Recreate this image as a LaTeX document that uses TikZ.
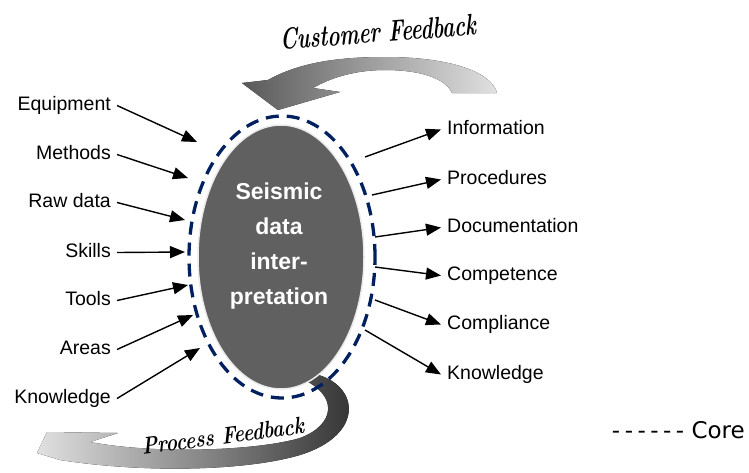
\documentclass[tikz,border=0pt]{standalone}
\usepackage{fontspec}
\newfontfamily\labelfont{Liberation Sans}
\newfontfamily\corefont{DejaVu Sans}
\usetikzlibrary{arrows.meta,shapes.geometric}
\definecolor{corenavy}{RGB}{0,32,96}
\definecolor{coregray}{RGB}{96,96,96}

\begin{document}
\begin{tikzpicture}[x=1pt,y=-1pt]
\tikzstyle{every node}+=[inner sep=0pt]
\tikzstyle{lbl}=[font=\labelfont\fontsize{19.5}{19.5}\selectfont, text height=13pt, text depth=4pt, inner xsep=6pt]
\tikzstyle{feed}=[line width=1.4pt, -{Triangle[length=15pt,width=12pt]}]
\tikzstyle{script}=[font=\bfseries\itshape\fontsize{30}{30}\selectfont]
\useasboundingbox (0,0) rectangle (749,472);
% feedback loops
\fill [left color=black!65, right color=black!12] (268,80) .. controls (300,62) and (340,57) .. (385,57)
  .. controls (450,57) and (492,72) .. (497,93) -- (452,93) .. controls (445,78) and (420,70) .. (385,70)
  .. controls (355,70) and (330,78) .. (313,88) -- (340,92) -- (278,110) -- (242,83) -- cycle;
\node [script, xscale=0.68, rotate=3] (customer) at (378,32) {Customer Feedback};
\fill [left color=black!12, right color=black!82] (315,374) .. controls (360,385) and (365,435) .. (300,455)
  .. controls (250,470) and (150,474) .. (60,460) -- (37,453) -- (47,432) -- (118,433) -- (90,442)
  .. controls (160,455) and (260,450) .. (300,438) .. controls (335,425) and (340,395) .. (300,378) -- cycle;
\node [script, font=\bfseries\itshape\fontsize{24}{24}\selectfont, xscale=0.8, rotate=6] (process) at (223,436) {Process Feedback};
% core
\node [ellipse, fill=coregray, draw=black!8, line width=1.5pt, minimum width=166pt, minimum height=264pt] (core) at (281,257) {};
\node [ellipse, draw=corenavy, line width=3.3pt, dash pattern=on 13pt off 8pt, minimum width=186pt, minimum height=282pt] (ring) at (282,257) {};
\node [align=center, text=white, font=\labelfont\bfseries\fontsize{23}{35}\selectfont] (title) at (279,246) {Seismic\\data\\inter-\\pretation};
% inputs
\node [lbl, anchor=base east] (equipment) at (117,110) {Equipment};
\node [lbl, anchor=base east] (methods) at (117,159) {Methods};
\node [lbl, anchor=base east] (rawdata) at (117,207) {Raw data};
\node [lbl, anchor=base east] (skills) at (117,257) {Skills};
\node [lbl, anchor=base east] (tools) at (117,305) {Tools};
\node [lbl, anchor=base east] (areas) at (117,354) {Areas};
\node [lbl, anchor=base east] (knowin) at (117,403) {Knowledge};
\coordinate (equipment-in) at (197,142);
\coordinate (methods-in) at (188,178);
\coordinate (rawdata-in) at (185,220);
\coordinate (skills-in) at (185,252);
\coordinate (tools-in) at (188,285);
\coordinate (areas-in) at (193,315);
\coordinate (knowin-in) at (200,348);
\draw [feed] (equipment.east) -- (equipment-in);
\draw [feed] (methods.east) -- (methods-in);
\draw [feed] (rawdata.east) -- (rawdata-in);
\draw [feed] (skills.east) -- (skills-in);
\draw [feed] (tools.east) -- (tools-in);
\draw [feed] (areas.east) -- (areas-in);
\draw [feed] (knowin.east) -- (knowin-in);
% outputs
\node [lbl, anchor=base west] (information) at (441,134) {Information};
\node [lbl, anchor=base west] (procedures) at (441,184) {Procedures};
\node [lbl, anchor=base west] (documentation) at (441,232) {Documentation};
\node [lbl, anchor=base west] (competence) at (441,280) {Competence};
\node [lbl, anchor=base west] (compliance) at (441,329) {Compliance};
\node [lbl, anchor=base west] (knowout) at (441,379) {Knowledge};
\coordinate (information-out) at (365,157);
\coordinate (procedures-out) at (372,195);
\coordinate (documentation-out) at (375,237);
\coordinate (competence-out) at (375,267);
\coordinate (compliance-out) at (375,300);
\coordinate (knowout-out) at (365,330);
\draw [feed] (information-out) -- (information.west);
\draw [feed] (procedures-out) -- (procedures.west);
\draw [feed] (documentation-out) -- (documentation.west);
\draw [feed] (competence-out) -- (competence.west);
\draw [feed] (compliance-out) -- (compliance.west);
\draw [feed] (knowout-out) -- (knowout.west);
% legend
\node [font=\corefont\fontsize{23}{23}\selectfont, anchor=base east] (legend) at (745,438) {-\kern4.5pt-\kern4.5pt-\kern4.5pt-\kern4.5pt-\kern4.5pt- Core};
\end{tikzpicture}
\end{document}
